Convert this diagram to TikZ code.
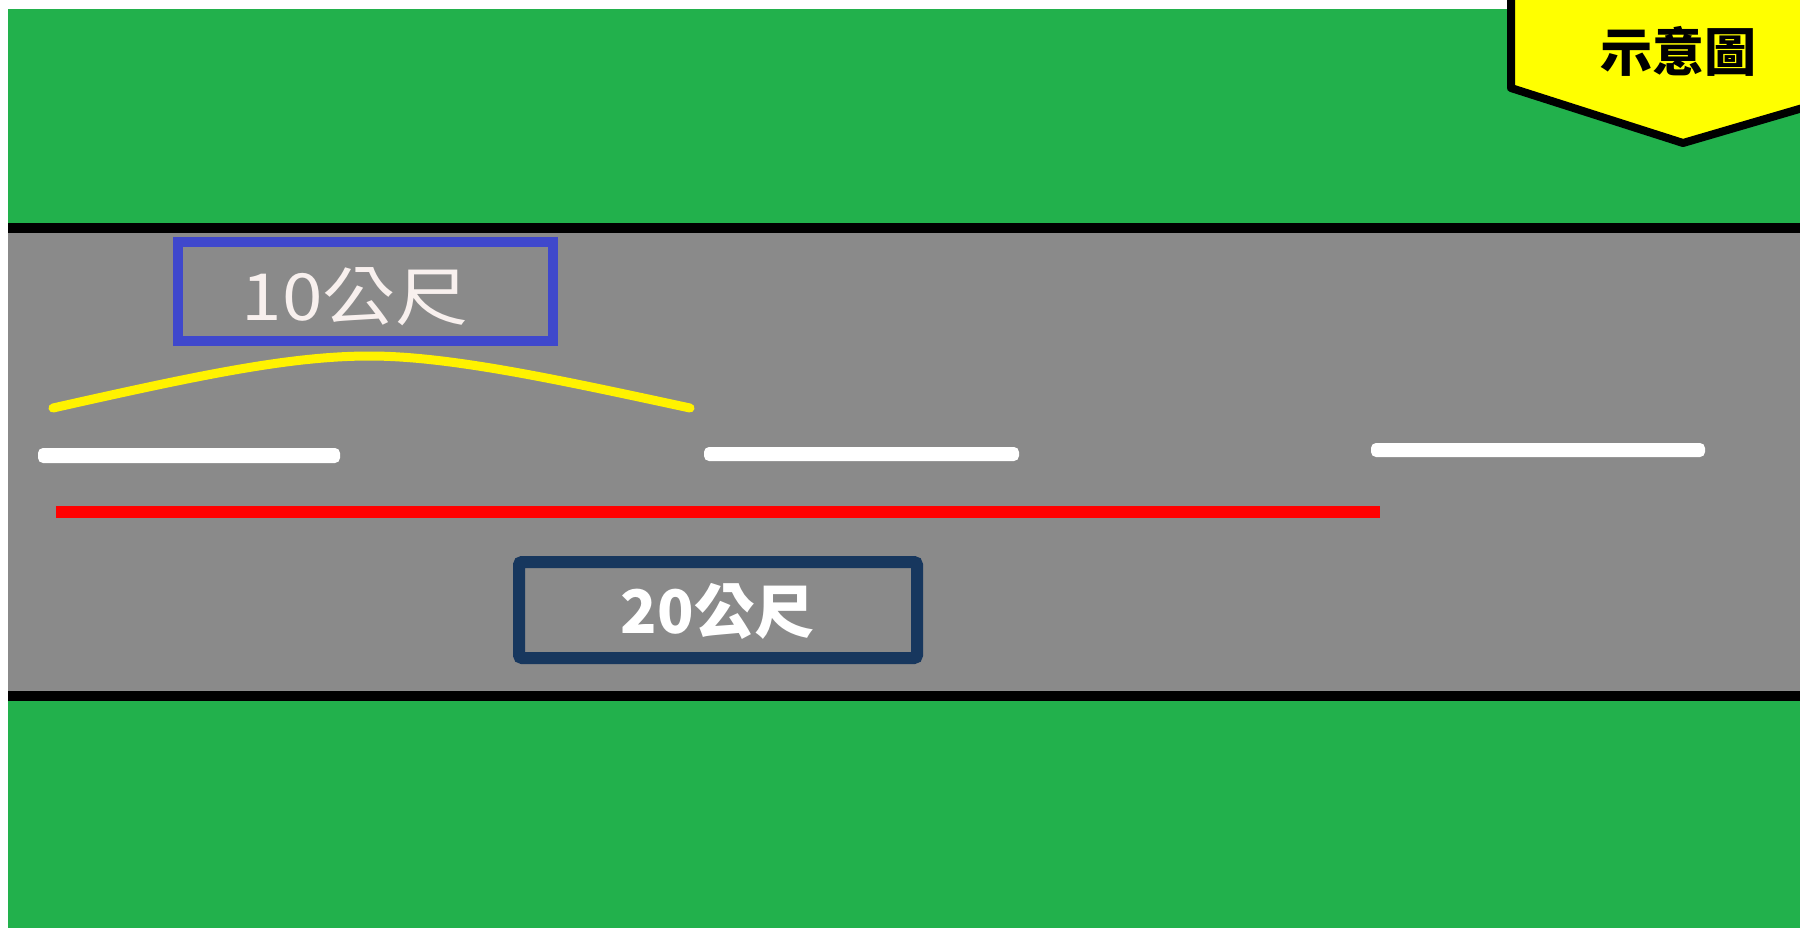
\documentclass[tikz,border=0pt]{standalone}
\usepackage{fontspec}
\newfontfamily\cjk{Noto Sans CJK TC}
\newfontfamily\cjkwide{Noto Sans CJK TC}[FakeStretch=1.12]
\definecolor{grass}{HTML}{22B14C}
\definecolor{road}{HTML}{8A8A8A}
\definecolor{arcyellow}{HTML}{FFF200}
\definecolor{boxblue}{HTML}{3F48CC}
\definecolor{boxnavy}{HTML}{17375E}
\definecolor{paleink}{HTML}{F8F0EE}
\definecolor{tagyellow}{HTML}{FFFF00}
\tikzset{
  lanedash/.style={fill=white, rounded corners=2.5pt},
  edgeline/.style={line width=5pt, black},
}
\begin{document}
\begin{tikzpicture}[x=0.5pt, y=-0.5pt]
\useasboundingbox (0,0) rectangle (1800,928);
\clip (0,0) rectangle (1800,928);
\fill[white] (0,0) rectangle (1800,928);
% grass and road
\fill[grass] (8,9) rectangle (1800,928);
\fill[road] (8,227) rectangle (1800,696);
\draw[edgeline] (8,227.5) -- (1800,227.5);
\draw[edgeline] (8,696) -- (1800,696);
% lane dashes
\fill[lanedash] (38,448) rectangle (340,463);
\fill[lanedash] (704,447) rectangle (1019,461);
\fill[lanedash] (1371,443) rectangle (1705,457);
% red line
\draw[red, line width=6pt] (56,512) -- (1380,512);
% yellow arc
\draw[arcyellow, line width=4.5pt, line cap=round]
  (53,408) .. controls (200,375) and (290,356) .. (370,356)
  .. controls (450,356) and (560,380) .. (690,408);
% boxes
\node[draw=boxblue, line width=5pt, minimum width=187.5pt, minimum height=49.5pt, inner sep=0pt] (tenbox) at (365.5,291.5) {};
\node[text=paleink, font=\cjkwide\fontsize{32.5pt}{32.5pt}\selectfont, inner sep=0pt] (tentext) at (355,297) {10公尺};
\node[draw=boxnavy, line width=6pt, rounded corners=1.5pt, minimum width=199pt, minimum height=48pt, inner sep=0pt] (twentybox) at (718,610) {};
\node[text=white, font=\cjk\bfseries\fontsize{30pt}{30pt}\selectfont, inner sep=0pt] (twentytext) at (717.5,611) {20公尺};
% label tag
\draw[fill=tagyellow, line width=4pt, line join=round]
  (1511,-20) -- (1511,88) -- (1683,143) -- (1830,100) -- (1830,-20) -- cycle;
\node[text=black, font=\cjk\bfseries\fontsize{26pt}{26pt}\selectfont, inner sep=0pt] (tag) at (1678.5,51) {示意圖};
\end{tikzpicture}
\end{document}
